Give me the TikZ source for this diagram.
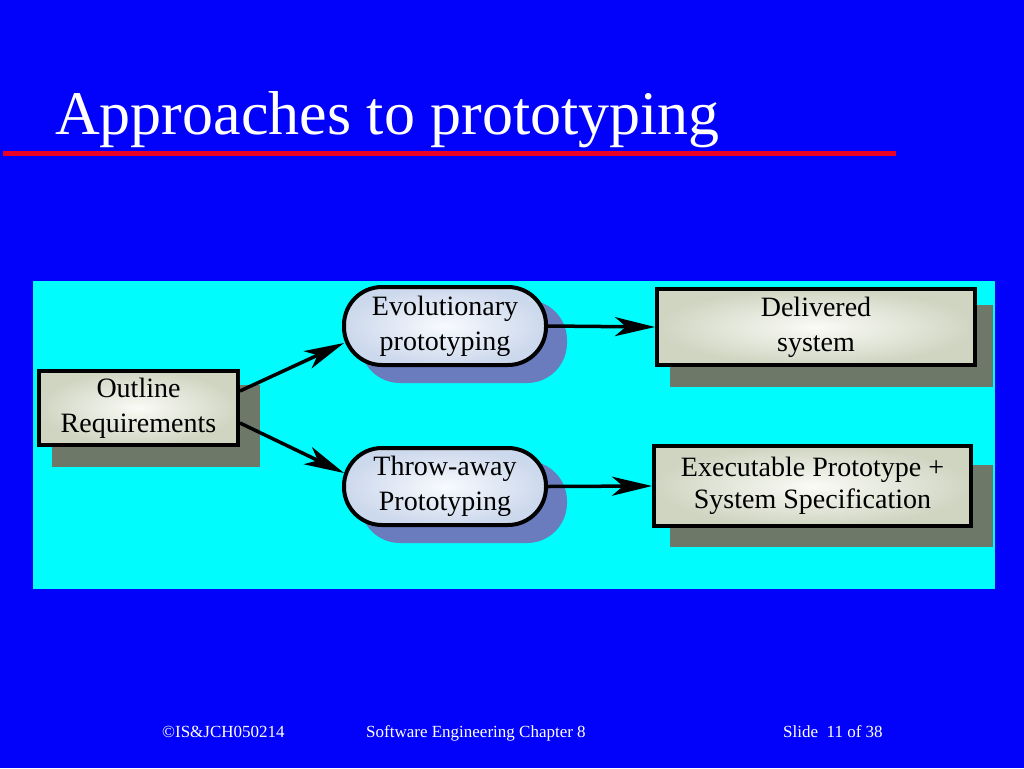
\documentclass[tikz,border=0pt]{standalone}
\usepackage{fontspec}
\setmainfont{Liberation Serif}
\usetikzlibrary{arrows.meta,backgrounds}
\definecolor{bg}{RGB}{2,2,250}
\definecolor{panel}{RGB}{0,252,252}
\definecolor{redline}{RGB}{235,0,40}
\definecolor{boxout}{RGB}{208,213,194}
\definecolor{boxin}{RGB}{250,251,246}
\definecolor{stout}{RGB}{204,216,236}
\definecolor{stin}{RGB}{248,250,254}
\definecolor{shgray}{RGB}{110,120,104}
\definecolor{shblue}{RGB}{106,124,190}
\tikzset{
  txt/.style={font=\fontsize{28}{35}\selectfont, align=center, text=black},
  rectbox/.style={txt, draw=black, line width=4pt, rectangle, inner color=boxin, outer color=boxout, inner sep=0pt},
  stadium/.style={txt, draw=black, line width=4pt, rectangle, rounded corners=38pt, inner color=stin, outer color=stout, inner sep=0pt},
  arr/.style={line width=3.5pt, draw=black, -{Stealth[length=40pt,width=19pt,inset=11pt]}},
  foot/.style={font=\fontsize{17}{20}\selectfont, text=white, anchor=base west, inner sep=0pt}
}
\begin{document}
\begin{tikzpicture}[x=1pt,y=-1pt]
\useasboundingbox (0,0) rectangle (1024,768);
% nodes
\node[rectbox, minimum width=199pt, minimum height=74pt] (o) at (138.5,408) {Outline\\Requirements};
\node[stadium, minimum width=202pt, minimum height=78pt] (e) at (445,326) {Evolutionary\\prototyping};
\node[stadium, minimum width=202pt, minimum height=77pt] (t) at (445,486.5) {Throw-away\\Prototyping};
\node[rectbox, minimum width=318pt, minimum height=76pt] (d) at (816,327) {Delivered\\system};
\node[rectbox, minimum width=317pt, minimum height=80pt, font=\fontsize{28}{32}\selectfont] (x) at (812.5,486) {Executable Prototype +\\System Specification};
% title
\node[font=\fontsize{62}{70}\selectfont, text=white, anchor=base west, inner sep=0pt] (title) at (55,134) {Approaches to prototyping};
\coordinate (rl1) at (3,153.5);
\coordinate (rl2) at (896,153.5);
\draw[redline, line width=5pt] (rl1) -- (rl2);
% arrows
\draw[arr] ([yshift=17pt]o.east) -- ([shift={(2,17)}]e.west);
\draw[arr] ([yshift=-15pt]o.east) -- ([shift={(2,-13.5)}]t.west);
\draw[arr] (e.east) -- (d.west);
\draw[arr] (t.east) -- (x.west);
% footer
\node[foot] (f1) at (162,737) {©IS\&JCH050214};
\node[foot] (f2) at (366,737) {Software Engineering Chapter 8};
\node[foot] (f3) at (783,737) {Slide\ \ 11 of 38};
% background
\begin{scope}[on background layer]
\fill[bg] (0,0) rectangle (1024,768);
\fill[panel] (33,281) rectangle (995,589);
\fill[shgray] ([shift={(15,16)}]o.north west) rectangle ([shift={(20,20)}]o.south east);
\fill[shgray] ([shift={(15,18)}]d.north west) rectangle ([shift={(16,20)}]d.south east);
\fill[shgray] ([shift={(18,21)}]x.north west) rectangle ([shift={(20,19)}]x.south east);
\fill[shblue, rounded corners=40pt] ([shift={(18,15)}]e.north west) rectangle ([shift={(19,16)}]e.south east);
\fill[shblue, rounded corners=40pt] ([shift={(18,15)}]t.north west) rectangle ([shift={(19,16)}]t.south east);
\end{scope}
\end{tikzpicture}
\end{document}
